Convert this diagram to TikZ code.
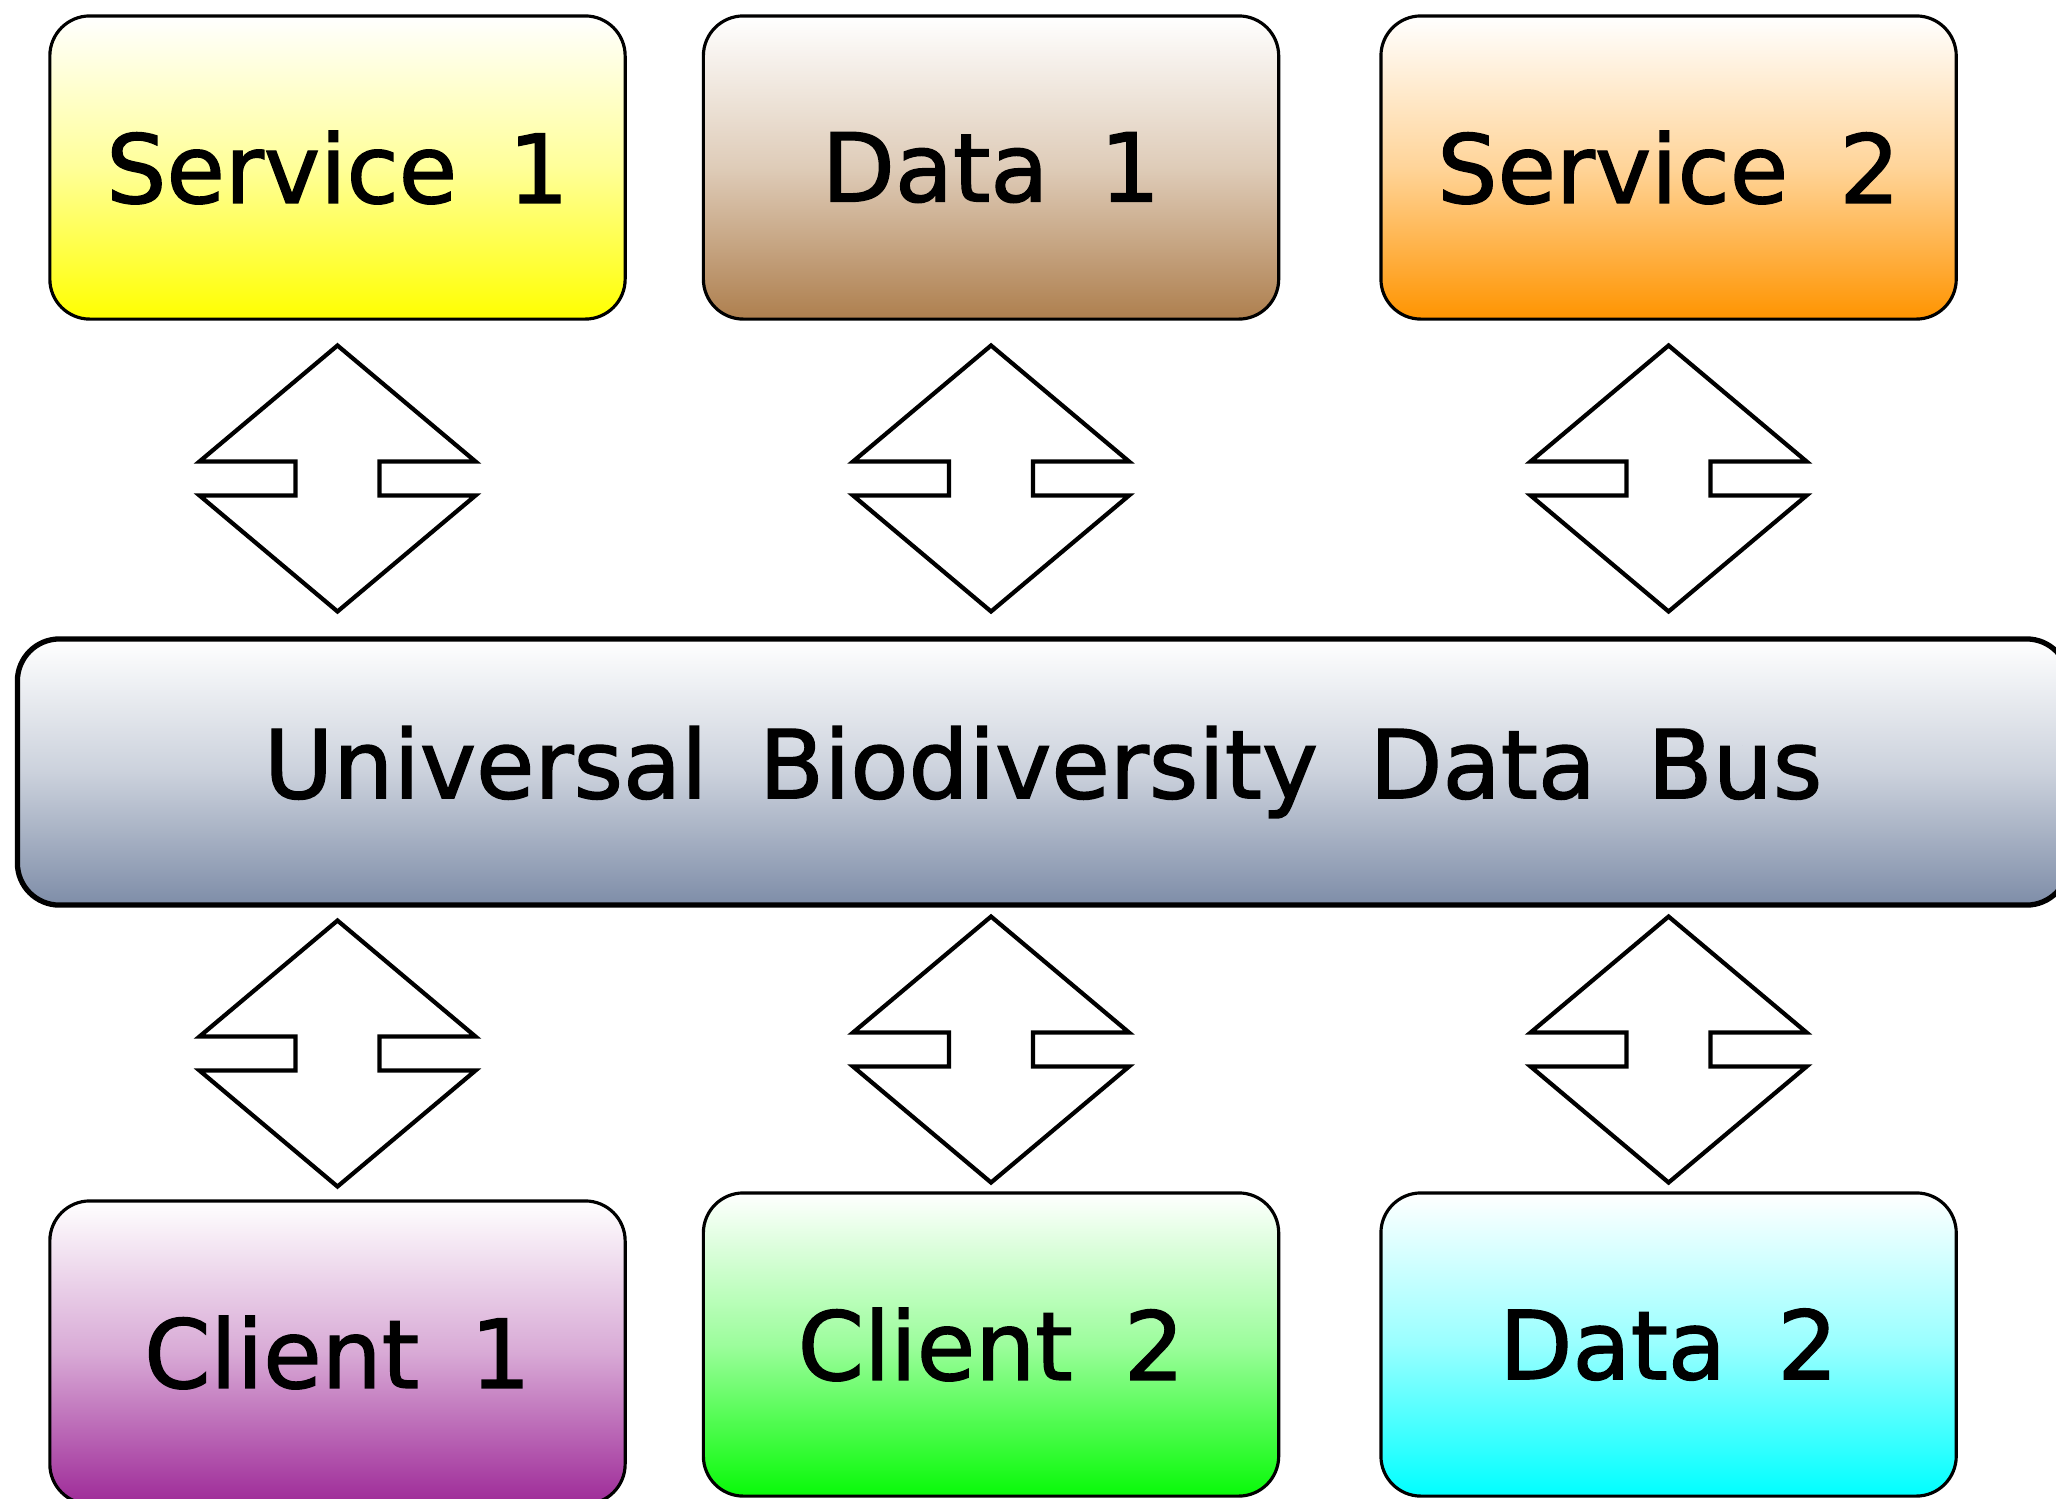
\documentclass[tikz,border=0pt]{standalone}
\usepackage{fontspec}
\newfontfamily\busfont[WordSpace=1.7, FakeBold=1.5]{DejaVu Sans}
\usepackage{tikz}
\usetikzlibrary{calc}
\usetikzlibrary{positioning}
\definecolor{svcyellow}{RGB}{255,255,0}
\definecolor{datbrown}{RGB}{174,127,78}
\definecolor{svcorange}{RGB}{255,148,0}
\definecolor{clipurple}{RGB}{158,42,152}
\definecolor{cligreen}{RGB}{8,250,8}
\definecolor{datcyan}{RGB}{0,255,255}
\definecolor{busgrey}{RGB}{126,141,168}

\begin{document}
\begin{tikzpicture}[x=0.01cm, y=-0.01cm, node distance=1cm,
        every node/.style={font=\busfont\fontsize{27}{32}\selectfont},
        grad/.style={top color=white, bottom color=#1, middle color=#1!40!white},
        box/.style={draw, rounded corners=0.4cm, line width=0.9pt,
          minimum width=5.75cm, minimum height=3.03cm},
        busbox/.style={draw, rounded corners=0.42cm, line width=1.5pt,
          minimum width=20.5cm, minimum height=2.66cm},
        arrowline/.style={draw, fill=white, line width=1.2pt, line join=miter},
        biarrow/.pic={
          \path[arrowline] (0,-133) -- (138,-17) -- (42,-17) -- (42,17) -- (138,17)
            -- (0,133) -- (-138,17) -- (-42,17) -- (-42,-17) -- (-138,-17) -- cycle;
        }]

        \path[use as bounding box, clip] (0,0) rectangle (2056,1499);

        \node[box, grad=svcyellow] (S1) at (337.5,167.5) {Service 1};
        \node[box, grad=datbrown] (D1) [right=0.75cm of S1] {Data 1};
        \node[box, grad=svcorange] (S2) [right=0.99cm of D1] {Service 2};

        \node[busbox, grad=busgrey] (bus) at (1043,772) {Universal Biodiversity Data Bus};

        \node[box, grad=clipurple] (C1) at (S1 |- 0,1352.5) {Client 1};
        \node[box, grad=cligreen] (C2) at (D1 |- 0,1344.5) {Client 2};
        \node[box, grad=datcyan] (D2) at (S2 |- 0,1344.5) {Data 2};

        \pic at ($(S1.south)!.5!(S1.south |- bus.north)$) {biarrow};
        \pic at ($(D1.south)!.5!(D1.south |- bus.north)$) {biarrow};
        \pic at ($(S2.south)!.5!(S2.south |- bus.north)$) {biarrow};

        \pic at ($(C1.north)!.5!(C1.north |- bus.south)$) {biarrow};
        \pic at ($(C2.north)!.5!(C2.north |- bus.south)$) {biarrow};
        \pic at ($(D2.north)!.5!(D2.north |- bus.south)$) {biarrow};

      \end{tikzpicture}
\end{document}
